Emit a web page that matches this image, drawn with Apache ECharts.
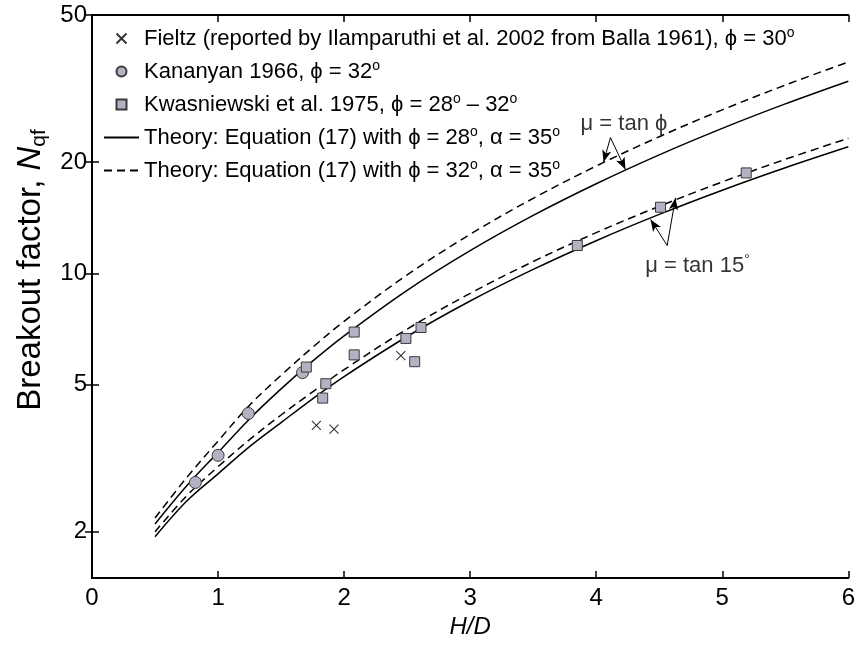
<!DOCTYPE html>
<html>
<head>
<meta charset="utf-8">
<script src="https://cdn.jsdelivr.net/npm/echarts@6/dist/echarts.min.js"></script>
<style>
  html, body { margin: 0; padding: 0; background: #ffffff; }
  #chart { width: 858px; height: 646px; }
</style>
</head>
<body>
<div id="chart"></div>
<script>
// ---- Data -------------------------------------------------------------
// Embedment ratio H/D at which the theoretical curves are tabulated
const hdGrid = [0.5, 0.75, 1, 1.25, 1.5, 1.75, 2, 2.5, 3, 3.5, 4, 4.5, 5, 5.5, 6];

// Theory, Equation (17), alpha = 35 deg
const theory28TanPhi = [2.10, 2.66, 3.28, 4.04, 4.87, 5.79, 6.78, 9.00, 11.52, 14.35, 17.48, 20.93, 24.68, 28.74, 33.1];
const theory32TanPhi = [2.18, 2.80, 3.52, 4.40, 5.30, 6.31, 7.42, 9.91, 12.76, 15.96, 19.52, 23.43, 27.70, 32.32, 37.3];
const theory28Tan15  = [1.94, 2.42, 2.87, 3.40, 3.95, 4.58, 5.26, 6.75, 8.42, 10.25, 12.26, 14.44, 16.79, 19.31, 22.0];
const theory32Tan15  = [2.00, 2.50, 3.00, 3.55, 4.14, 4.78, 5.49, 7.07, 8.83, 10.77, 12.89, 15.19, 17.68, 20.35, 23.2];

// Test results
const fieltzHD  = [1.78, 1.92, 2.45];
const fieltzNqf = [3.88, 3.79, 5.99];

const kananyanHD  = [0.82, 1.00, 1.24, 1.67];
const kananyanNqf = [2.72, 3.22, 4.18, 5.39];

const kwasHD  = [1.70, 1.83, 1.855, 2.08, 2.08, 2.49, 2.56, 2.61, 3.85, 4.51, 5.19];
const kwasNqf = [5.58, 4.60, 5.03, 6.94, 6.02, 6.67, 5.77, 7.14, 11.9, 15.1, 18.7];

// Axis ticks
const xTicks = [0, 1, 2, 3, 4, 5, 6];
const yTicks = [2, 5, 10, 20, 50];

// Series names (legend keys)
const NAME_FIELTZ = 'Fieltz (reported by Ilamparuthi et al. 2002 from Balla 1961), \u03D5 = 30\u00B0';
const NAME_KANANYAN = 'Kananyan 1966, \u03D5 = 32\u00B0';
const NAME_KWAS = 'Kwasniewski et al. 1975, \u03D5 = 28\u00B0 \u2013 32\u00B0';
const NAME_T28 = 'Theory: Equation (17) with \u03D5 = 28\u00B0, \u03B1 = 35\u00B0';
const NAME_T32 = 'Theory: Equation (17) with \u03D5 = 32\u00B0, \u03B1 = 35\u00B0';

// Annotation geometry (data units): label anchors and arrow start/end points
const noteTanPhi = { at: [3.876, 25.3], from: [4.113, 23.3], to: [[4.058, 20.0], [4.232, 19.1]] };
const noteTan15  = { at: [4.389, 10.5], from: [4.563, 11.9], to: [[4.431, 14.0], [4.629, 16.0]] };

// ---- Styling ----------------------------------------------------------
const FONT = '"Liberation Sans", Arial, Helvetica, sans-serif';
const rich = {
  t:  { fontFamily: FONT, fontSize: 22, color: '#000', lineHeight: 24 },
  s:  { fontFamily: FONT, fontSize: 14, color: '#000', lineHeight: 13, verticalAlign: 'top' }
};
const titleRich = {
  t:  { fontFamily: FONT, fontSize: 33, color: '#000', lineHeight: 37 },
  i:  { fontFamily: FONT, fontSize: 33, color: '#000', lineHeight: 37, fontStyle: 'italic' },
  b:  { fontFamily: FONT, fontSize: 21, color: '#000', lineHeight: 21, verticalAlign: 'bottom' }
};

const legendText = {};
legendText[NAME_FIELTZ] = '{t|Fieltz (reported by Ilamparuthi et al. 2002 from Balla 1961), \u03D5 = 30}{s|o}';
legendText[NAME_KANANYAN] = '{t|Kananyan 1966, \u03D5 = 32}{s|o}';
legendText[NAME_KWAS] = '{t|Kwasniewski et al. 1975, \u03D5 = 28}{s|o}{t| \u2013 32}{s|o}';
legendText[NAME_T28] = '{t|Theory: Equation (17) with \u03D5 = 28}{s|o}{t|, \u03B1 = 35}{s|o}';
legendText[NAME_T32] = '{t|Theory: Equation (17) with \u03D5 = 32}{s|o}{t|, \u03B1 = 35}{s|o}';

const zip = (xs, ys) => xs.map((x, k) => [x, ys[k]]);

const markerFill = '#b2b2c4';
const markerEdge = '#3a3a3a';
const solidLine  = { color: '#000', width: 1.5, type: 'solid' };
const dashedLine = { color: '#000', width: 1.5, type: [8, 5] };
const squarePath = 'path://M0,0H10V10H0Z';

function theorySeries(name, values, lineStyle) {
  return {
    name: name, type: 'line', data: zip(hdGrid, values),
    symbol: 'none', smooth: 0.35, lineStyle: lineStyle,
    itemStyle: { color: '#000' }, silent: true, z: 2
  };
}

const frameAxisLine = { show: true, lineStyle: { color: '#000', width: 2 } };
const innerTick = { show: true, inside: true, length: 7, lineStyle: { color: '#000', width: 1.5 } };
const tickFont = { fontFamily: FONT, fontSize: 24, color: '#000' };

const option = {
  animation: false,
  backgroundColor: '#ffffff',
  grid: { left: 92, right: 6, top: 15, bottom: 68, containLabel: false },
  legend: {
    orient: 'vertical', left: 103, top: 26.5, padding: 0,
    itemWidth: 35, itemHeight: 10, itemGap: 10,
    symbolKeepAspect: true,
    data: [
      { name: NAME_FIELTZ },
      { name: NAME_KANANYAN },
      { name: NAME_KWAS, icon: squarePath },
      { name: NAME_T28, itemStyle: { opacity: 0 } },
      { name: NAME_T32, itemStyle: { opacity: 0 } }
    ],
    formatter: name => legendText[name],
    textStyle: { rich: rich, fontFamily: FONT, fontSize: 22, color: '#000' },
    selectedMode: false
  },
  xAxis: [
    {
      type: 'value', min: 0, max: 6, interval: 1, position: 'bottom',
      axisLine: frameAxisLine, axisTick: innerTick, splitLine: { show: false },
      axisLabel: Object.assign({ show: true, margin: 8, customValues: xTicks }, tickFont),
      name: 'H/D', nameLocation: 'middle', nameGap: 29,
      nameTextStyle: { fontFamily: FONT, fontSize: 24, fontStyle: 'italic', color: '#000' }
    },
    {
      type: 'value', min: 0, max: 6, interval: 1, position: 'top',
      axisLine: frameAxisLine, axisTick: innerTick, splitLine: { show: false },
      axisLabel: { show: false }
    }
  ],
  yAxis: [
    {
      type: 'log', min: 1.5, max: 50, position: 'left',
      axisLine: frameAxisLine,
      axisTick: Object.assign({}, innerTick, { customValues: yTicks }),
      minorTick: { show: false }, splitLine: { show: false },
      axisLabel: Object.assign({ show: true, margin: 5, customValues: yTicks }, tickFont),
      name: '{t|Breakout factor, }{i|N}{b|qf}', nameLocation: 'middle', nameRotate: 90, nameGap: 41,
      nameTextStyle: { rich: titleRich, padding: [0, 0, 0, 53] }
    },
    {
      type: 'log', min: 1.5, max: 50, position: 'right',
      axisLine: frameAxisLine,
      axisTick: Object.assign({}, innerTick, { customValues: yTicks }),
      minorTick: { show: false }, splitLine: { show: false },
      axisLabel: { show: false, customValues: yTicks }
    }
  ],
  series: [
    theorySeries(NAME_T28, theory28TanPhi, solidLine),
    theorySeries(NAME_T32, theory32TanPhi, dashedLine),
    theorySeries(NAME_T28, theory28Tan15, solidLine),
    theorySeries(NAME_T32, theory32Tan15, dashedLine),
    {
      name: NAME_FIELTZ, type: 'scatter', data: zip(fieltzHD, fieltzNqf),
      symbol: 'path://M0,0L10,10M10,0L0,10', symbolSize: 9,
      itemStyle: { color: 'rgba(0,0,0,0)', borderColor: '#000', borderWidth: 1.1 },
      silent: true, z: 4
    },
    {
      name: NAME_KANANYAN, type: 'scatter', data: zip(kananyanHD, kananyanNqf),
      symbol: 'circle', symbolSize: 12,
      itemStyle: { color: markerFill, borderColor: markerEdge, borderWidth: 1, opacity: 1 },
      silent: true, z: 3
    },
    {
      name: NAME_KWAS, type: 'scatter', data: zip(kwasHD, kwasNqf),
      symbol: squarePath, symbolSize: 10,
      itemStyle: { color: markerFill, borderColor: markerEdge, borderWidth: 1, opacity: 1 },
      silent: true, z: 3
    },
    {
      // annotation labels and pointer arrows
      name: 'notes', type: 'scatter', symbolSize: 0, silent: true, z: 5,
      data: [
        { value: noteTanPhi.at, label: { formatter: '{t|\u03BC = tan \u03D5}' } },
        { value: noteTan15.at, label: { formatter: '{t|\u03BC = tan 15}{s|\u00B0}' } }
      ],
      label: { show: true, position: 'right', distance: 0, rich: rich },
      markLine: {
        silent: true, animation: false,
        symbol: ['none', 'arrow'], symbolSize: [7, 12],
        label: { show: false },
        lineStyle: { color: '#000', width: 1, type: 'solid' },
        emphasis: { disabled: true },
        data: [
          [{ coord: noteTanPhi.from }, { coord: noteTanPhi.to[0] }],
          [{ coord: noteTanPhi.from }, { coord: noteTanPhi.to[1] }],
          [{ coord: noteTan15.from }, { coord: noteTan15.to[0] }],
          [{ coord: noteTan15.from }, { coord: noteTan15.to[1] }]
        ]
      }
    }
  ]
};

const chart = echarts.init(document.getElementById('chart'), null, { renderer: 'canvas' });
chart.setOption(option);
</script>
</body>
</html>
